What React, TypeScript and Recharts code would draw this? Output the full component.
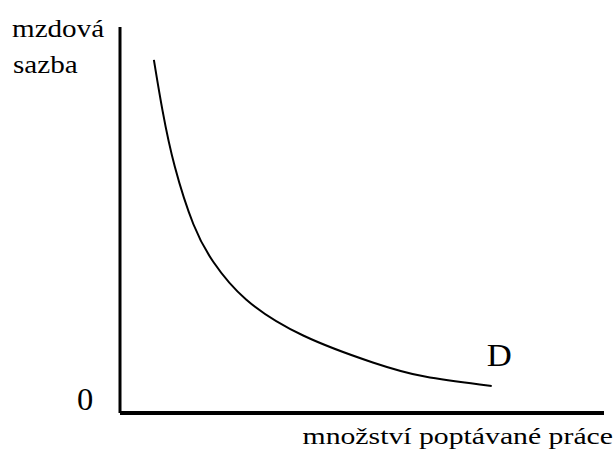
import { LineChart, Line, XAxis, YAxis, ReferenceLine } from "recharts";

// labour demand curve D
const quantity = [7.0, 8.7, 11.0, 15.3, 18.8, 25.1, 37.1, 53.6, 61.9, 76.8];
const wage = [91.5, 78.5, 64.2, 47.4, 39.6, 29.3, 19.7, 12.4, 9.3, 7.0];

const yTitle = ["mzdová", "sazba"];
const xTitle = "množství poptávané práce";
const curveName = "D";
const originLabel = "0";

const data = quantity.map((q, i) => ({ q, w: wage[i] }));

const serif = "Liberation Serif";

// serif text, stretched sideways like the scanned original
function Word({ x, y, size, stretch, anchor, children }: any) {
  return (
    <text
      transform={`translate(${x},${y}) scale(${stretch},1)`}
      style={{ fontFamily: serif, fontSize: size, fill: "#000" }}
      textAnchor={anchor || "start"}
    >
      {children}
    </text>
  );
}

export default function App() {
  const last = data.length - 1;
  return (
    <div style={{ position: "absolute", left: 0, top: 0, background: "#fff" }}>
      <LineChart
        width={615}
        height={450}
        data={data}
        margin={{ top: 27, right: 11, bottom: 37, left: 120 }}
      >
        <XAxis type="number" dataKey="q" domain={[0, 100]} hide />
        <YAxis type="number" domain={[0, 100]} hide />
        <ReferenceLine
          y={0}
          stroke="#000"
          strokeWidth={4}
          label={({ viewBox }: any) => (
            <Word x={viewBox.x + viewBox.width + 9} y={viewBox.y + 31} size={24} stretch={1.24} anchor="end">
              {xTitle}
            </Word>
          )}
        />
        <ReferenceLine
          x={0}
          stroke="#000"
          strokeWidth={3}
          label={({ viewBox }: any) => (
            <g>
              <Word x={12} y={viewBox.y + 10} size={26} stretch={1.12}>
                {yTitle[0]}
              </Word>
              <Word x={13} y={viewBox.y + 46} size={26} stretch={1.12}>
                {yTitle[1]}
              </Word>
              <Word x={77} y={viewBox.y + viewBox.height - 3} size={31} stretch={1.05}>
                {originLabel}
              </Word>
            </g>
          )}
        />
        <Line
          type="basis"
          dataKey="w"
          stroke="#000"
          strokeWidth={2}
          dot={false}
          isAnimationActive={false}
          label={({ x, y, index }: any) =>
            index === last ? (
              <Word key="d" x={x - 5} y={y - 20} size={31} stretch={1.12}>
                {curveName}
              </Word>
            ) : (
              <g key={index} />
            )
          }
        />
      </LineChart>
    </div>
  );
}
